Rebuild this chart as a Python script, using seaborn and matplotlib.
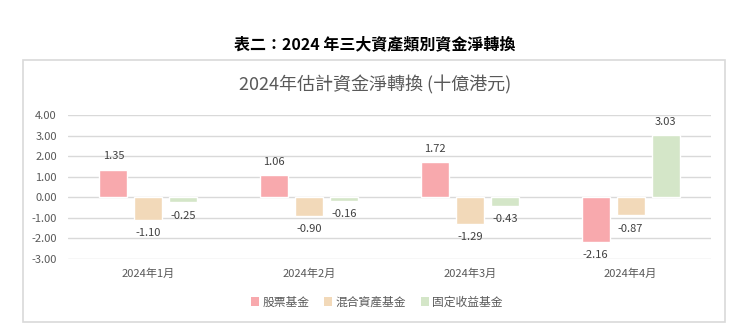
import matplotlib
matplotlib.use("Agg")
import matplotlib.pyplot as plt
import seaborn as sns
import pandas as pd
from matplotlib.patches import Rectangle, Patch

months = ["2024年1月", "2024年2月", "2024年3月", "2024年4月"]
series_names = ["股票基金", "混合資產基金", "固定收益基金"]
equity = [1.35, 1.06, 1.72, -2.16]
mixed = [-1.10, -0.90, -1.29, -0.87]
fixed_income = [-0.25, -0.16, -0.43, 3.03]
y_ticks = [4, 3, 2, 1, 0, -1, -2, -3]
colors = ["#F8A9AD", "#F2D9B9", "#D4E6C8"]

rows = []
for name, vals in zip(series_names, [equity, mixed, fixed_income]):
    for m, v in zip(months, vals):
        rows.append({"month": m, "value": v, "type": name})
df = pd.DataFrame(rows)

sns.set_theme(style="white")
plt.rcParams["font.family"] = ["Noto Sans CJK TC", "DejaVu Sans"]
plt.rcParams["axes.unicode_minus"] = False

fig = plt.figure(figsize=(7.46, 3.36), dpi=100)
fig.patch.set_facecolor("white")

# outer box
fig.patches.append(Rectangle((23 / 746, 14 / 336), 702 / 746, 262 / 336,
                             transform=fig.transFigure, fill=False,
                             edgecolor="#D9D9D9", linewidth=1.2, zorder=0))

ax = fig.add_axes([68 / 746, 1 - 259 / 336, (711 - 68) / 746, (259 - 115) / 336])
sns.barplot(data=df, x="month", y="value", hue="type", order=months,
            hue_order=series_names, palette=colors, width=0.652, gap=0.2,
            ax=ax, legend=False, saturation=1, zorder=3)

ax.set_ylim(-3, 4)
ax.set_yticks(y_ticks)
ax.set_yticklabels([f"{t:.2f}" for t in y_ticks])
ax.grid(axis="y", color="#D9D9D9", linewidth=1, zorder=0)
ax.set_axisbelow(True)
for s in ax.spines.values():
    s.set_visible(False)
ax.tick_params(axis="both", length=0, labelsize=8, colors="#595959")
ax.tick_params(axis="y", pad=8)
ax.tick_params(axis="x", pad=7)
ax.set_xlabel("")
ax.set_ylabel("")
ax.set_xlim(-0.5, 3.5)

for cont in ax.containers:
    ax.bar_label(cont, fmt="%.2f", padding=6, fontsize=8, color="#404040")

fig.text(375 / 746, 1 - 44 / 336, "表二：2024 年三大資產類別資金淨轉換",
         ha="center", va="center", fontsize=11.5, fontweight="bold", color="black")
fig.text(375 / 746, 1 - 85 / 336, "2024年估計資金淨轉換 (十億港元)",
         ha="center", va="center", fontsize=13, color="#595959")

handles = [Patch(facecolor=c, edgecolor="none") for c in colors]
fig.legend(handles, series_names, loc="center", bbox_to_anchor=(377 / 746, 1 - 302 / 336),
           ncol=3, frameon=False, fontsize=8.5, handlelength=0.7, handleheight=0.7,
           handletextpad=0.3, columnspacing=1.2, labelcolor="#595959")

fig.savefig("out.png", dpi=100, facecolor="white")
